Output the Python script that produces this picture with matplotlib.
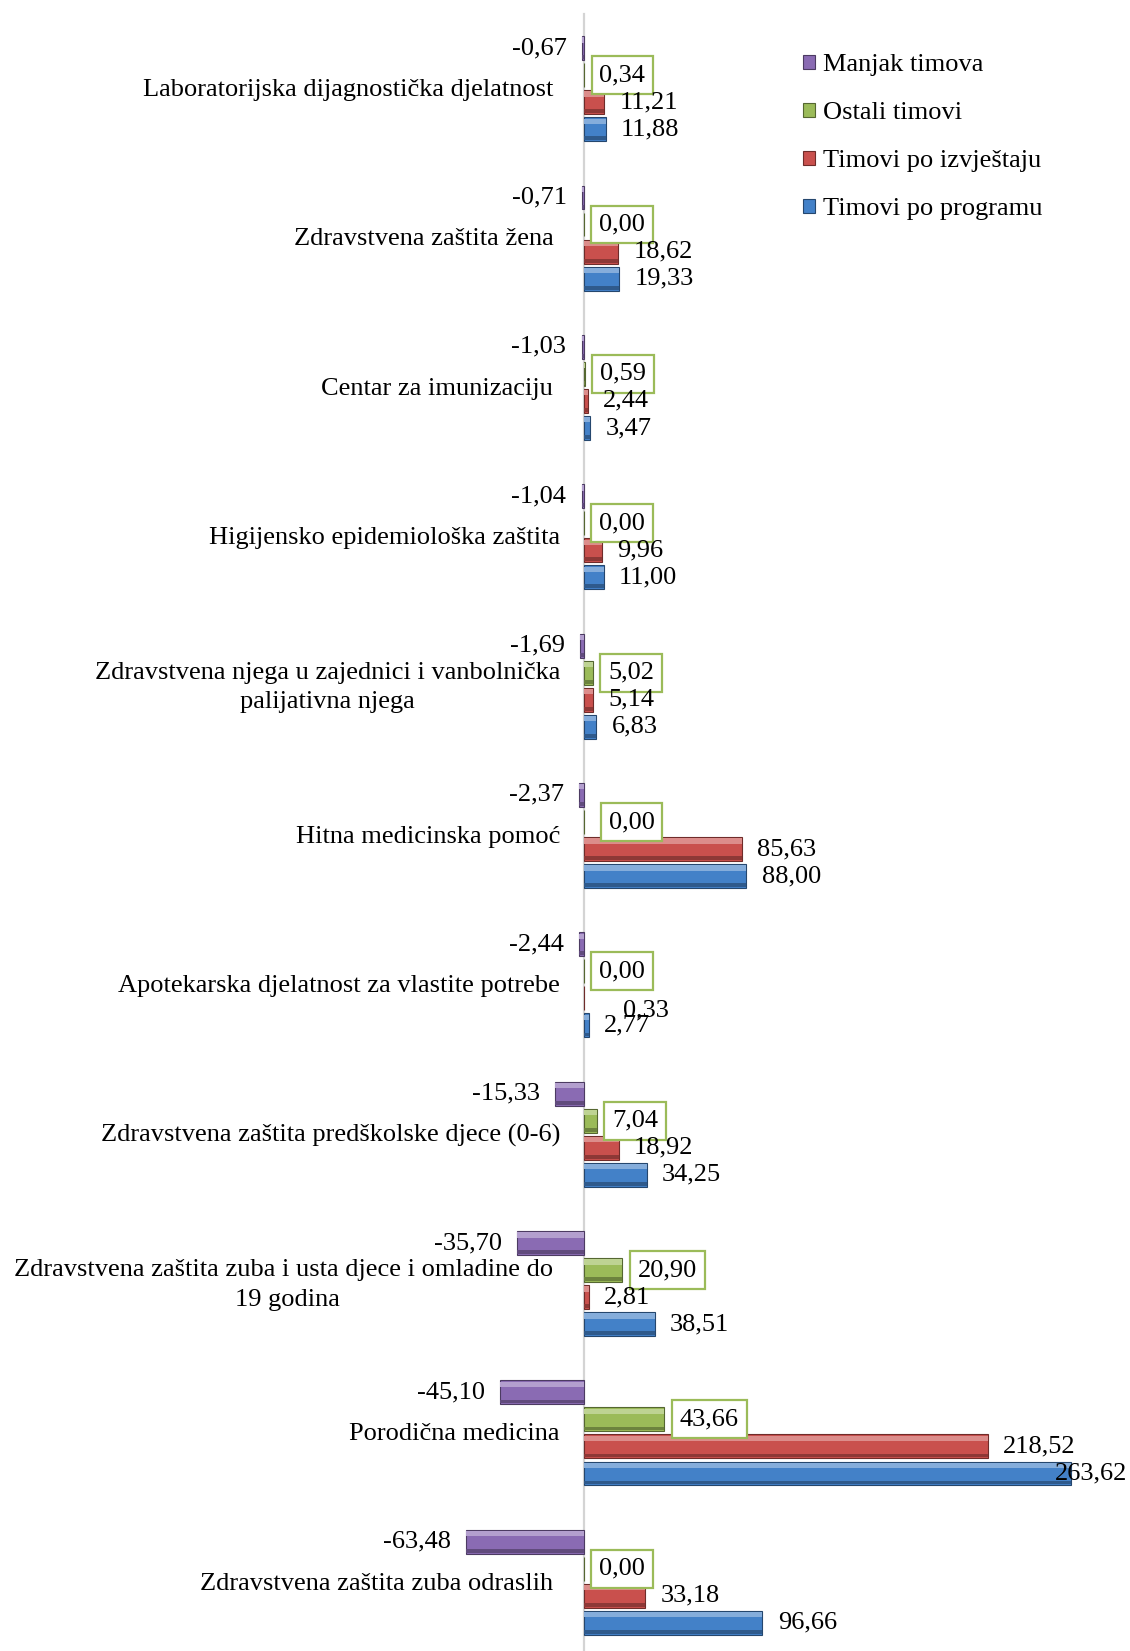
import numpy as np
import matplotlib
matplotlib.use("Agg")
import matplotlib.pyplot as plt
from matplotlib.patches import Patch
from matplotlib.colors import to_rgb

plt.rcParams['font.family'] = ['Liberation Serif', 'DejaVu Serif']

# data, top to bottom as in the chart
categories = [
    "Laboratorijska dijagnostička djelatnost ",
    "Zdravstvena zaštita žena ",
    "Centar za imunizaciju ",
    "Higijensko epidemiološka zaštita",
    "Zdravstvena njega u zajednici i vanbolnička\npalijativna njega",
    "Hitna medicinska pomoć",
    "Apotekarska djelatnost za vlastite potrebe",
    "Zdravstvena zaštita predškolske djece (0-6)",
    "Zdravstvena zaštita zuba i usta djece i omladine do \n19 godina",
    "Porodična medicina",
    "Zdravstvena zaštita zuba odraslih ",
]
manjak = [-0.67, -0.71, -1.03, -1.04, -1.69, -2.37, -2.44, -15.33, -35.70, -45.10, -63.48]
ostali = [0.34, 0.00, 0.59, 0.00, 5.02, 0.00, 0.00, 7.04, 20.90, 43.66, 0.00]
izvjestaj = [11.21, 18.62, 2.44, 9.96, 5.14, 85.63, 0.33, 18.92, 2.81, 218.52, 33.18]
program = [11.88, 19.33, 3.47, 11.00, 6.83, 88.00, 2.77, 34.25, 38.51, 263.62, 96.66]

series_names = ["Manjak timova", "Ostali timovi", "Timovi po izvještaju", "Timovi po programu"]
series = [manjak, ostali, izvjestaj, program]
colors = ["#8A6BB3", "#9BBB59", "#C9504D", "#4381C8"]

step = 0.181
bar_h = 0.16
fs = 19

fig = plt.figure(figsize=(11.3, 16.51), dpi=100)
ax = fig.add_axes([0.3936, -0.0036, 0.6058, 0.9951])

y_base = np.arange(len(categories))


def shade(c, f):
    c = np.array(to_rgb(c))
    if f > 0:
        return tuple(c + (1 - c) * f)
    return tuple(c * (1 + f))


for k, vals in enumerate(series):
    y = y_base + (k - 1.5) * step
    col = colors[k]
    ax.barh(y, vals, height=bar_h, color=col, edgecolor=shade(col, -0.45), linewidth=0.8, zorder=3)
    # bevel look: light band on top, dark band at the bottom
    ax.barh(y - bar_h * 0.34, vals, height=bar_h * 0.22, color=shade(col, 0.35), linewidth=0, zorder=3)
    ax.barh(y + bar_h * 0.38, vals, height=bar_h * 0.16, color=shade(col, -0.3), linewidth=0, zorder=3)

# manual nudges of a few labels (points), like Excel moved them
nudge = {(2, 6): (17, -9), (3, 9): (-23, 0), (1, 5): (7, 0)}

for k, vals in enumerate(series):
    for i, v in enumerate(vals):
        y = i + (k - 1.5) * step
        txt = f"{v:.2f}".replace(".", ",")
        dx, dy = nudge.get((k, i), (0, 0))
        if v < 0:
            off, ha = (-11 + dx, dy), "right"
        else:
            off, ha = (11 + dx, dy), "left"
        kw = {}
        if k == 1:
            kw["bbox"] = dict(boxstyle="square,pad=0.3", fc="white", ec="#9BBB59", lw=1.6)
        ax.annotate(txt, xy=(v, y), xytext=off, textcoords="offset points",
                    ha=ha, va="center", fontsize=fs, zorder=5, **kw)

# category labels next to the zero line
for i, cat in enumerate(categories):
    ax.annotate(cat, xy=(0, i), xytext=(-17, -1), textcoords="offset points",
                ha="right", va="center", multialignment="center",
                linespacing=1.45, fontsize=fs)

ax.set_xlim(-75, 295)
ax.set_ylim(len(categories) - 0.5, -0.5)
ax.set_xticks([])
ax.set_yticks([])

for s in ["top", "right", "bottom"]:
    ax.spines[s].set_visible(False)
ax.spines["left"].set_position(("data", 0))
ax.spines["left"].set_color("#D4D4D4")
ax.spines["left"].set_linewidth(1.6)
ax.spines["left"].set_zorder(2)

handles = [Patch(facecolor=c, edgecolor=shade(c, -0.45), linewidth=0.8) for c in colors]
ax.legend(handles, series_names, loc="upper left",
          bbox_to_anchor=(803 / 1130, 1 - 54 / 1651), bbox_transform=fig.transFigure,
          frameon=False, fontsize=fs, handlelength=0.45, handleheight=0.45,
          handletextpad=0.3, labelspacing=0.99, borderpad=0, borderaxespad=0)

fig.savefig("out.png", dpi=100)
